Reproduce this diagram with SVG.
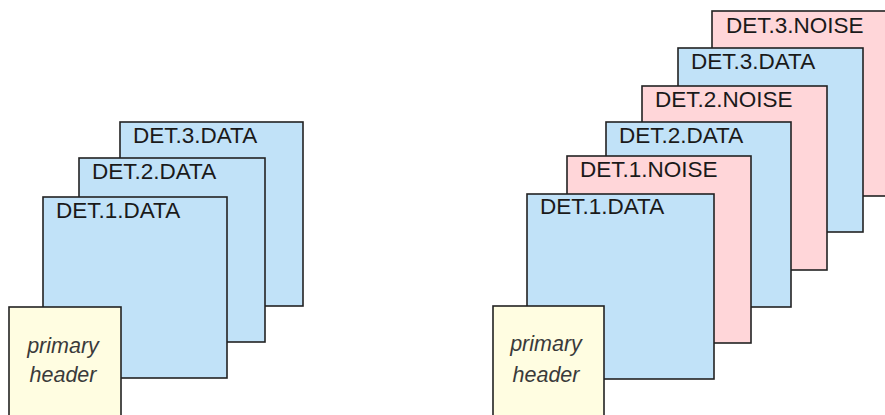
<svg xmlns="http://www.w3.org/2000/svg" width="885" height="415" viewBox="0 0 885 415">
  <style>
    .box { stroke: #222; stroke-width: 1.6; }
    .data { fill: #c1e2f8; }
    .noise { fill: #ffd6d9; }
    .hdr { fill: #fffde1; }
    .lbl { font-family: "Liberation Sans", Arial, sans-serif; font-size: 22.5px; fill: #1a1a1a; }
    .hlbl { font-family: "Liberation Sans", Arial, sans-serif; font-size: 21.5px; font-style: italic; fill: #3a3a3a; text-anchor: middle; }
  </style>
  <rect width="885" height="415" fill="#ffffff"/>

  <!-- Left file: data extensions only -->
  <g id="left-det3-data">
    <rect class="box data" x="120" y="122" width="183" height="184"/>
    <text class="lbl" x="133" y="143">DET.3.DATA</text>
  </g>
  <g id="left-det2-data">
    <rect class="box data" x="79" y="158" width="186" height="184"/>
    <text class="lbl" x="92" y="179">DET.2.DATA</text>
  </g>
  <g id="left-det1-data">
    <rect class="box data" x="43" y="197" width="184" height="181"/>
    <text class="lbl" x="56" y="218">DET.1.DATA</text>
  </g>
  <g id="left-primary-header">
    <rect class="box hdr" x="9" y="307" width="112" height="120"/>
    <text class="hlbl" x="63" y="353">primary</text>
    <text class="hlbl" x="63" y="382">header</text>
  </g>

  <!-- Right file: data and noise extensions -->
  <g id="right-det3-noise">
    <rect class="box noise" x="712" y="11" width="190" height="185"/>
    <text class="lbl" x="726" y="33">DET.3.NOISE</text>
  </g>
  <g id="right-det3-data">
    <rect class="box data" x="678" y="48" width="185" height="184"/>
    <text class="lbl" x="691" y="69">DET.3.DATA</text>
  </g>
  <g id="right-det2-noise">
    <rect class="box noise" x="642" y="86" width="185" height="184"/>
    <text class="lbl" x="655" y="107">DET.2.NOISE</text>
  </g>
  <g id="right-det2-data">
    <rect class="box data" x="606" y="122" width="185" height="185"/>
    <text class="lbl" x="619" y="143">DET.2.DATA</text>
  </g>
  <g id="right-det1-noise">
    <rect class="box noise" x="567" y="156" width="184" height="187"/>
    <text class="lbl" x="580" y="177">DET.1.NOISE</text>
  </g>
  <g id="right-det1-data">
    <rect class="box data" x="527" y="194" width="187" height="185"/>
    <text class="lbl" x="540" y="214">DET.1.DATA</text>
  </g>
  <g id="right-primary-header">
    <rect class="box hdr" x="493" y="306" width="111" height="120"/>
    <text class="hlbl" x="546" y="351">primary</text>
    <text class="hlbl" x="546" y="382">header</text>
  </g>

  <g id="connectors"></g>
</svg>
